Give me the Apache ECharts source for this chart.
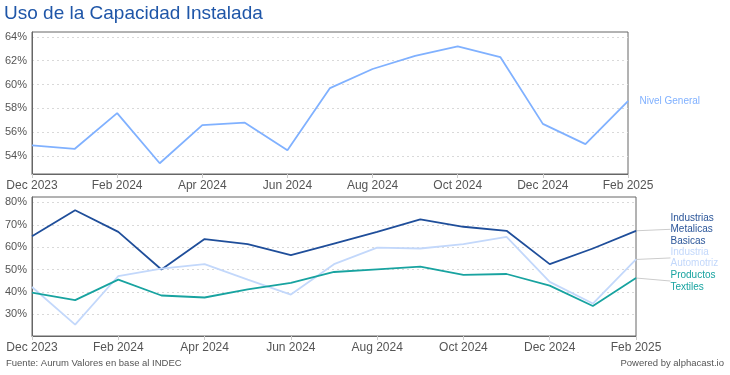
<!DOCTYPE html>
<html>
<head>
<meta charset="utf-8">
<script src="https://cdn.jsdelivr.net/npm/echarts@6/dist/echarts.min.js"></script>
<style>
  html, body { margin: 0; padding: 0; background: #fff; }
  #chart { width: 730px; height: 375px; }
</style>
</head>
<body>
<div id="chart"></div>
<script>
// meses (Dic 2023 - Feb 2025)
const months = ["Dec 2023", "Jan 2024", "Feb 2024", "Mar 2024", "Apr 2024", "May 2024", "Jun 2024",
  "Jul 2024", "Aug 2024", "Sep 2024", "Oct 2024", "Nov 2024", "Dec 2024", "Jan 2025", "Feb 2025"];

const nivelGeneral = [54.9, 54.6, 57.6, 53.4, 56.6, 56.8, 54.5, 59.7, 61.3, 62.4, 63.2, 62.3, 56.7, 55.0, 58.6];
const metalicas    = [64.9, 76.5, 66.8, 50.0, 63.6, 61.3, 56.4, 61.6, 66.8, 72.4, 69.1, 67.3, 52.4, 59.4, 67.3];
const automotriz   = [42.2, 25.4, 47.1, 50.4, 52.4, 45.5, 38.8, 52.4, 59.8, 59.4, 61.3, 64.6, 44.5, 34.8, 54.5];
const textiles     = [39.7, 36.3, 45.5, 38.4, 37.5, 41.1, 44.0, 48.9, 50.1, 51.3, 47.6, 48.0, 42.8, 33.7, 46.2];

const topTicks = [54, 56, 58, 60, 62, 64];
const bottomTicks = [30, 40, 50, 60, 70, 80];

const FONT = '"Liberation Sans", Arial, sans-serif';
const axisGray = '#555';

// etiqueta solo en el ultimo punto
function lastLabel(vals, text, color, dist) {
  return vals.map(function (v, i) {
    if (i !== vals.length - 1) return v;
    return {
      value: v,
      symbol: 'circle',
      symbolSize: 1,
      label: {
        show: true,
        position: 'right',
        distance: dist,
        formatter: text,
        color: color,
        fontSize: 10,
        lineHeight: 11.5,
        fontFamily: FONT
      }
    };
  });
}

function xAxisFor(gridIndex) {
  return {
    type: 'category',
    gridIndex: gridIndex,
    data: months,
    boundaryGap: false,
    axisLine: { lineStyle: { color: '#666', width: 1 } },
    axisTick: { show: true, interval: 1, length: 4, lineStyle: { color: '#ccc' } },
    axisLabel: { interval: 1, color: axisGray, fontSize: 12, margin: 6, fontFamily: FONT },
    splitLine: { show: false }
  };
}

function yAxisFor(gridIndex, min, max, ticks) {
  return {
    type: 'value',
    gridIndex: gridIndex,
    min: min,
    max: max,
    axisLine: { show: true, lineStyle: { color: '#666', width: 1 } },
    axisTick: { show: false, customValues: ticks },
    axisLabel: { color: axisGray, fontSize: 11, margin: 5, fontFamily: FONT, formatter: '{value}%', customValues: ticks },
    splitLine: { show: true, lineStyle: { type: [2, 3], color: '#d9d9d9' } }
  };
}

const labelLine = { show: true, lineStyle: { color: '#ccc', width: 1 } };

const chart = echarts.init(document.getElementById('chart'));
chart.setOption({
  animation: false,
  textStyle: { fontFamily: FONT },
  title: [
    { text: 'Uso de la Capacidad Instalada', left: 4, top: 4, padding: 0,
      textStyle: { color: '#1f56a8', fontSize: 19, fontWeight: 'normal', fontFamily: FONT } },
    { text: 'Fuente: Aurum Valores en base al INDEC', left: 6, top: 358, padding: 0,
      textStyle: { color: '#555', fontSize: 9.5, fontWeight: 'normal', fontFamily: FONT } },
    { text: 'Powered by alphacast.io', right: 6, top: 358, padding: 0,
      textStyle: { color: '#555', fontSize: 9.5, fontWeight: 'normal', fontFamily: FONT } }
  ],
  grid: [
    { left: 32, top: 32, width: 596, height: 142, show: true, borderColor: '#666', borderWidth: 1, containLabel: false },
    { left: 32, top: 197, width: 604, height: 139, show: true, borderColor: '#666', borderWidth: 1, containLabel: false }
  ],
  xAxis: [xAxisFor(0), xAxisFor(1)],
  yAxis: [yAxisFor(0, 52.5, 64.4, topTicks), yAxisFor(1, 20.3, 82.4, bottomTicks)],
  series: [
    {
      name: 'Nivel General', type: 'line', xAxisIndex: 0, yAxisIndex: 0,
      symbol: 'none', showSymbol: true,
      lineStyle: { color: '#80b1ff', width: 1.8 }, itemStyle: { color: '#80b1ff' },
      data: lastLabel(nivelGeneral, 'Nivel General', '#80b1ff', 11)
    },
    {
      name: 'Industrias Metalicas Basicas', type: 'line', xAxisIndex: 1, yAxisIndex: 1,
      symbol: 'none', showSymbol: true,
      lineStyle: { color: '#1f4e9a', width: 1.8 }, itemStyle: { color: '#1f4e9a' },
      labelLine: labelLine,
      labelLayout: { dy: -1.5 },
      data: lastLabel(metalicas, 'Industrias\nMetalicas\nBasicas', '#2a5599', 34)
    },
    {
      name: 'Industria Automotriz', type: 'line', xAxisIndex: 1, yAxisIndex: 1,
      symbol: 'none', showSymbol: true,
      lineStyle: { color: '#c3d8fb', width: 1.8 }, itemStyle: { color: '#c3d8fb' },
      labelLine: labelLine,
      labelLayout: { dy: -1.5 },
      data: lastLabel(automotriz, 'Industria\nAutomotriz', '#c3d8fb', 34)
    },
    {
      name: 'Productos Textiles', type: 'line', xAxisIndex: 1, yAxisIndex: 1,
      symbol: 'none', showSymbol: true,
      lineStyle: { color: '#18a3a0', width: 1.8 }, itemStyle: { color: '#18a3a0' },
      labelLine: labelLine,
      labelLayout: { dy: 3 },
      data: lastLabel(textiles, 'Productos\nTextiles', '#18a3a0', 34)
    }
  ]
});
</script>
</body>
</html>
